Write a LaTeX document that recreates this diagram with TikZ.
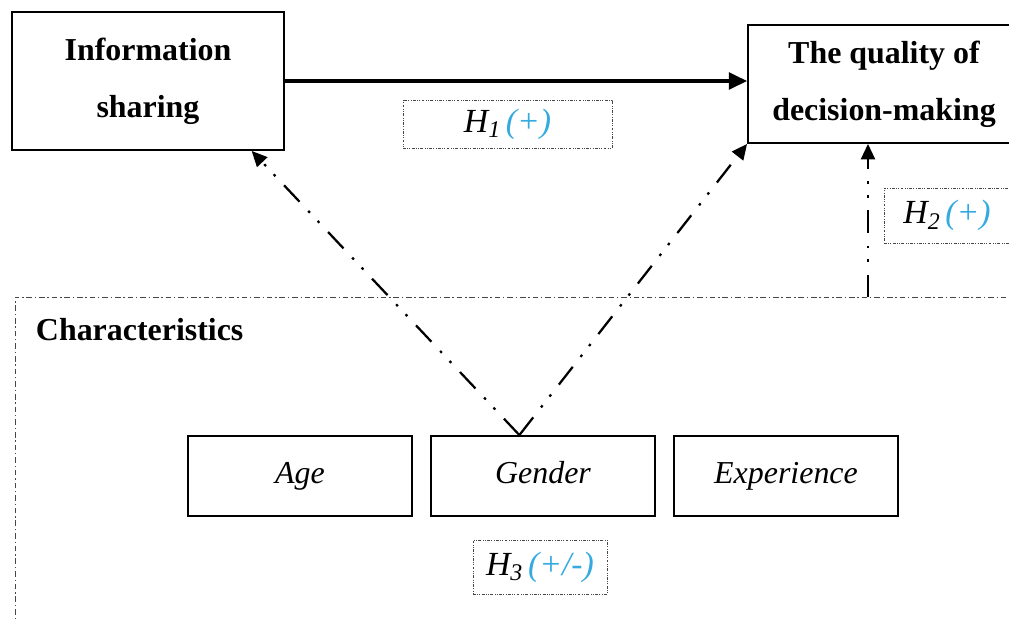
\documentclass[tikz,border=0pt]{standalone}
\usepackage{fontspec}
\setmainfont{Liberation Serif}
\usepackage{xcolor}
\usepackage{tikz}
\usetikzlibrary{arrows.meta}
\usetikzlibrary{positioning}
\definecolor{hypblue}{RGB}{52,170,222}
\definecolor{frame}{RGB}{70,70,70}
\newcommand{\hsub}[1]{\raisebox{-0.35ex}{\fontsize{17}{17}\selectfont #1}}

\begin{document}
\begin{tikzpicture}[x=0.025cm,y=-0.025cm]
      \useasboundingbox (0,0) rectangle (1009,621);
      \clip (0,0) rectangle (1009,621);
      % characteristics region
      \draw[frame, line width=0.7pt, dash pattern=on 4pt off 2pt on 1pt off 2pt]
        (15,640) -- (15,297) -- (1030,297);
      \node[anchor=west, font=\fontsize{22.7}{27}\selectfont\bfseries] (charlbl) at (31,330) {Characteristics};
      \begin{scope}[every node/.style={draw=black, line width=1.3pt, align=center,
          font=\fontsize{22.7}{40.8}\selectfont\bfseries}]
        \node[minimum width=6.8cm, minimum height=3.45cm] (info) at (148,81) {Information\\sharing};
        \node[minimum width=6.8cm, minimum height=2.95cm] (quality) at (884,84) {The quality of\\decision-making};
      \end{scope}
      \begin{scope}[every node/.style={draw=black, line width=1.3pt, minimum width=5.6cm,
          minimum height=2cm, text height=15pt, text depth=5pt,
          font=\fontsize{22.7}{27}\selectfont\itshape}]
        \node (age) at (300,476) {Age};
        \node (gender) at (543,476) {Gender};
        \node (exper) at (786,476) {Experience};
      \end{scope}
      \begin{scope}[every node/.style={draw=frame, line width=0.6pt,
          dash pattern=on 2pt off 1pt on 0.6pt off 1pt on 0.6pt off 1pt,
          font=\fontsize{24}{28}\selectfont\itshape}]
        \node[minimum width=5.225cm, minimum height=1.2cm] (h1) at (507.5,124)
          {H\hsub{1}\,\textcolor{hypblue}{(+)}\hspace{4pt}};
        \node[minimum width=3.15cm, minimum height=1.375cm] (h2) at (947,215.5)
          {H\hsub{2}\,\textcolor{hypblue}{(+)}};
        \node[minimum width=3.35cm, minimum height=1.35cm] (h3) at (540,567)
          {H\hsub{3}\,\textcolor{hypblue}{(+/-)}};
      \end{scope}
      \coordinate (h2from) at (868,297);
      \path (info.east) edge[draw=black, line width=2.2pt, -{Triangle[length=13pt,width=12pt]}]
        (info.east -| quality.west);
      \begin{scope}[every edge/.style={draw=black, line width=1.6pt,
          dash pattern=on 16pt off 9pt on 1.8pt off 8pt on 1.8pt off 9pt,
          -{Triangle[length=11pt,width=10pt]}}]
        \path (gender.120.7) edge (info.-34.3);
        \path (gender.120.7) edge (quality.south west);
        \path (h2from) edge (h2from |- quality.south);
      \end{scope}
    \end{tikzpicture}
\end{document}
